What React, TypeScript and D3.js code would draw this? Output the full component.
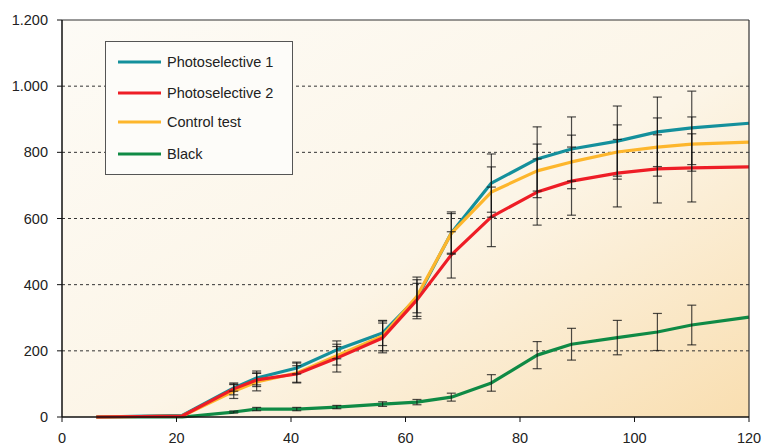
import React from 'react';
import * as d3 from 'd3';

// days after sowing
const days = [6, 21, 30, 34, 41, 48, 56, 62, 68, 75, 83, 89, 97, 104, 110, 120];

const photo1 = [0, 5, 88, 118, 148, 203, 254, 360, 556, 707, 780, 810, 834, 862, 874, 888];
const photo2 = [0, 3, 85, 112, 130, 178, 239, 354, 490, 605, 680, 713, 737, 750, 753, 756];
const control = [0, 3, 78, 106, 133, 185, 245, 365, 555, 680, 744, 771, 801, 816, 825, 831];
const black = [0, 0, 15, 24, 24, 30, 39, 45, 60, 103, 187, 220, 240, 257, 278, 302];

// standard deviations (null = no bar)
const photo1Err = [null, null, 10, 21, 18, 27, 38, 63, 64, 88, 97, 97, 106, 105, 111, null];
const photo2Err = [null, null, 18, 20, 25, 42, 45, 50, 70, 90, 100, 103, 102, 103, 103, null];
const controlErr = [null, null, 22, 27, 30, 28, 45, 50, 60, 76, 81, 81, 82, 88, 82, null];
const blackErr = [null, null, 3, 5, 5, 5, 7, 8, 12, 25, 41, 48, 52, 56, 60, null];

const xTicks = [0, 20, 40, 60, 80, 100, 120];
const yTicks = [0, 200, 400, 600, 800, 1000, 1200];
const yTickLabels = ['0', '200', '400', '600', '800', '1.000', '1.200'];

const series = [
    {name: 'Black', values: black, err: blackErr, color: '#0f8a45'},
    {name: 'Photoselective 1', values: photo1, err: photo1Err, color: '#14909c'},
    {name: 'Control test', values: control, err: controlErr, color: '#fdb62c'},
    {name: 'Photoselective 2', values: photo2, err: photo2Err, color: '#ee1d26'},
];
const legendOrder = ['Photoselective 1', 'Photoselective 2', 'Control test', 'Black'];

export default function App() {
    const width = 763, height = 446;
    const margin = {top: 20, right: 14, bottom: 29, left: 62};
    const x = d3.scaleLinear().domain([0, 120]).range([margin.left, width - margin.right]);
    const y = d3.scaleLinear().domain([0, 1200]).range([height - margin.bottom, margin.top]);

    const line = d3.line<number>()
        .x((d, i) => x(days[i]))
        .y(d => y(d))
        .curve(d3.curveLinear);

    const font = 'Liberation Sans, Arial, Helvetica, sans-serif';
    const legendY = [62, 93, 122, 154];

    return (
        <svg width={width} height={height} style={{position: 'absolute', left: 0, top: 0}}>
            <defs>
                <linearGradient id='bg' x1='0' y1='0' x2='1' y2='1'>
                    <stop offset='0' stopColor='#fdfbf6'/>
                    <stop offset='0.55' stopColor='#fcf5e7'/>
                    <stop offset='1' stopColor='#f9deb0'/>
                </linearGradient>
            </defs>
            <rect x={0} y={0} width={width} height={height} fill='#fff'/>
            <rect x={x(0)} y={y(1200)} width={x(120) - x(0)} height={y(0) - y(1200)} fill='url(#bg)'/>

            {yTicks.slice(1, -1).map(t => (
                <line key={t} x1={x(0)} x2={x(120)} y1={y(t)} y2={y(t)}
                    stroke='#333' strokeWidth={1} strokeDasharray='3,3'/>
            ))}

            {series.map(s => (
                <path key={s.name} d={line(s.values) || ''} fill='none' stroke={s.color}
                    strokeWidth={3.2} strokeLinejoin='round'/>
            ))}

            {series.map(s => s.err.map((e, i) => {
                if (e == null) return null;
                const cx = x(days[i]);
                const y1 = y(s.values[i] + e), y2 = y(s.values[i] - e);
                return (
                    <g key={s.name + i} stroke='#111' strokeOpacity={0.75} strokeWidth={1.2}>
                        <line x1={cx} x2={cx} y1={y1} y2={y2}/>
                        <line x1={cx - 4.5} x2={cx + 4.5} y1={y1} y2={y1}/>
                        <line x1={cx - 4.5} x2={cx + 4.5} y1={y2} y2={y2}/>
                    </g>
                );
            }))}

            {/* frame */}
            <line x1={x(0)} x2={x(120)} y1={y(1200)} y2={y(1200)} stroke='#333' strokeWidth={1.2}/>
            <line x1={x(120)} x2={x(120)} y1={y(1200)} y2={y(0)} stroke='#333' strokeWidth={1.2}/>
            <line x1={x(0)} x2={x(0)} y1={y(1200)} y2={y(0)} stroke='#111' strokeWidth={1.5}/>
            <line x1={x(0)} x2={x(120)} y1={y(0)} y2={y(0)} stroke='#111' strokeWidth={1.5}/>

            {yTicks.map((t, i) => (
                <g key={t}>
                    <line x1={x(0) - 5} x2={x(0)} y1={y(t)} y2={y(t)} stroke='#111'/>
                    <text x={x(0) - 14} y={y(t) + 5} textAnchor='end' fontFamily={font}
                        fontSize={14.5} fill='#222'>{yTickLabels[i]}</text>
                </g>
            ))}
            {xTicks.map(t => (
                <g key={t}>
                    <line x1={x(t)} x2={x(t)} y1={y(0)} y2={y(0) + 5} stroke='#111'/>
                    <text x={x(t)} y={y(0) + 26} textAnchor='middle' fontFamily={font}
                        fontSize={14.5} fill='#222'>{t}</text>
                </g>
            ))}

            {/* legend */}
            <rect x={105.5} y={41.5} width={187} height={133} fill='#fdfcf9' stroke='#555' strokeWidth={1}/>
            {legendOrder.map((name, i) => {
                const s = series.find(d => d.name === name)!;
                return (
                    <g key={name}>
                        <line x1={118} x2={161} y1={legendY[i]} y2={legendY[i]} stroke={s.color} strokeWidth={3}/>
                        <text x={167} y={legendY[i] + 5} fontFamily={font} fontSize={14.5} fill='#222'>{name}</text>
                    </g>
                );
            })}
        </svg>
    );
}
